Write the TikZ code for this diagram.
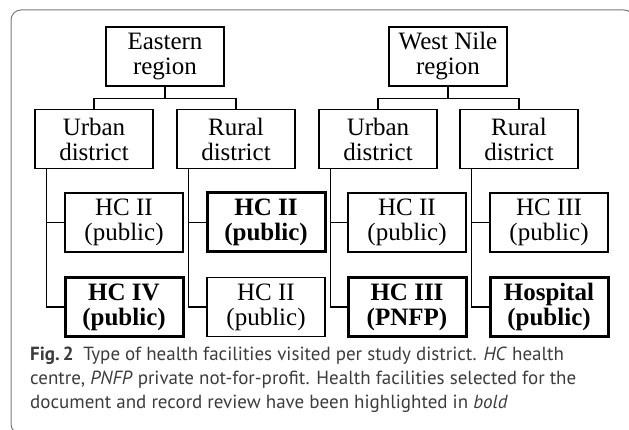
\documentclass[tikz,border=0pt]{standalone}
\usepackage{fontspec}
\setmainfont{Liberation Serif}
\newfontfamily\capfont{PT Sans}
\usetikzlibrary{positioning,calc}

\definecolor{framegray}{HTML}{7A7A7A}
\definecolor{captext}{HTML}{3C3C3C}

\begin{document}
\begin{tikzpicture}
  [x=1pt,y=-1pt,
   box/.style={rectangle,draw,line width=1.3pt,minimum width=118pt,minimum height=59pt,
     inner sep=0pt,align=center,font=\fontsize{25}{25}\selectfont},
   chosen/.style={box,line width=3pt,font=\fontsize{25}{25}\selectfont\bfseries},
   link/.style={line width=1.3pt}]
  \useasboundingbox (0,0) rectangle (629,430);
  \begin{scope}
    \clip (0,0) rectangle (629,430);
    \draw[framegray,line width=1pt,rounded corners=10pt] (11,10) rectangle (634,434);
  \end{scope}

  % regions
  \node[box] (er) at (165,56.5) {Eastern\\region};
  \node[box] (wr) at (448,56.5) {West Nile\\region};

  % districts
  \node[box] (eu) at (94,139) {Urban\\district};
  \node[box] (ed) at (236,139) {Rural\\district};
  \node[box] (wu) at (378,139) {Urban\\district};
  \node[box] (wd) at (519,139) {Rural\\district};

  % facilities
  \node[box] (eu1) at (124,222.5) {HC II\\(public)};
  \node[chosen] (eu2) at (124,307) {HC IV\\(public)};
  \node[chosen] (ed1) at (266,222.5) {HC II\\(public)};
  \node[box] (ed2) at (266,307) {HC II\\(public)};
  \node[box] (wu1) at (407,222.5) {HC II\\(public)};
  \node[chosen] (wu2) at (407,307) {HC III\\(PNFP)};
  \node[box] (wd1) at (549,222.5) {HC III\\(public)};
  \node[chosen] (wd2) at (549,307) {Hospital\\(public)};

  \foreach \top/\left/\right in {er/eu/ed, wr/wu/wd}{
    \draw[link] (\top.south) -- ++(0,12) coordinate (\top j);
    \draw[link] (\top j) -| (\left.north);
    \draw[link] (\top j) -| (\right.north);
  }
  \foreach \dist in {eu, ed, wu, wd}{
    \draw[link] ([xshift=12pt]\dist.south west) |- (\dist1.west);
    \draw[link] ([xshift=12pt]\dist.south west) |- (\dist2.west);
  }

  % caption
  \node[anchor=north west,inner sep=0pt,text=captext,align=left,
    font=\capfont\fontsize{19}{24}\selectfont] (cap) at (30,347)
    {\textbf{Fig.\,2}\enspace Type of health facilities visited per study district. \textit{HC} health\\
     centre, \textit{PNFP} private not-for-profit. Health facilities selected for the\\
     document and record review have been highlighted in \textit{bold}};
\end{tikzpicture}
\end{document}
